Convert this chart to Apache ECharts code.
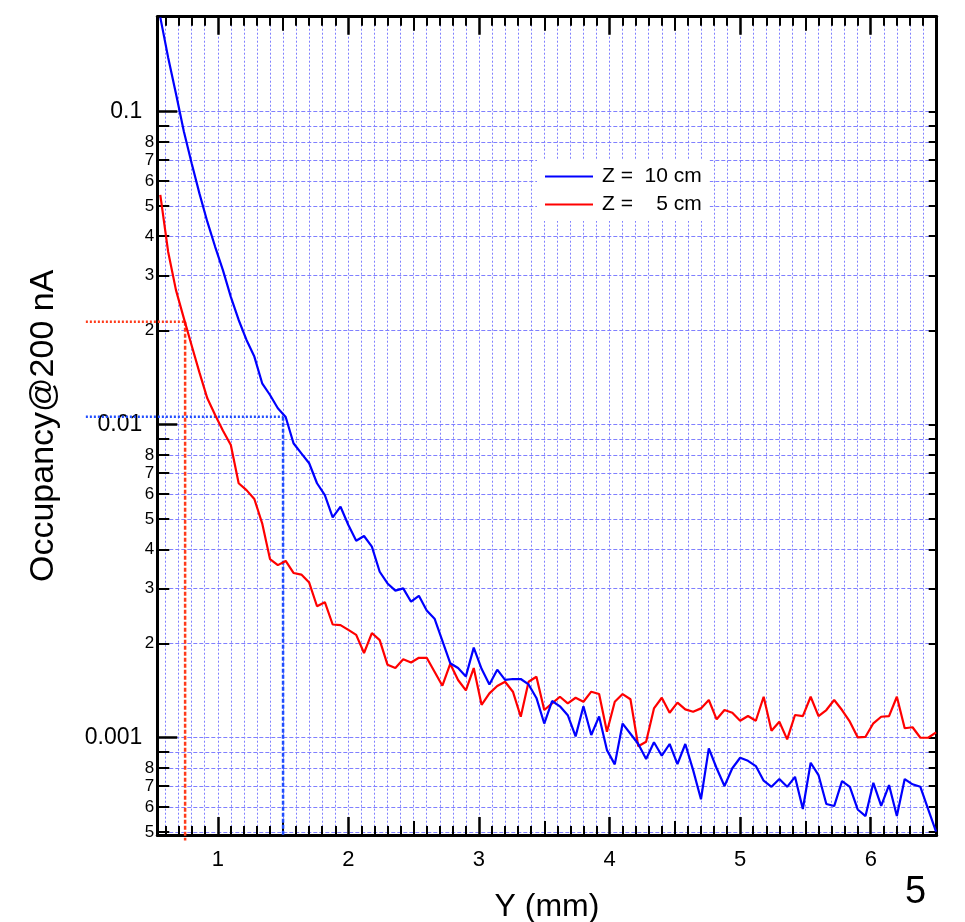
<!DOCTYPE html>
<html><head><meta charset="utf-8">
<script src="https://cdn.jsdelivr.net/npm/echarts@6/dist/echarts.min.js"></script>
<style>html,body{margin:0;padding:0;background:#fff}#c{width:965px;height:922px}</style>
</head><body><div id="c"></div>
<script>
// ---------- data ----------
const xValues = [0.56,0.62,0.68,0.74,0.80,0.86,0.92,0.98,1.04,1.10,1.16,1.22,1.28,1.34,1.40,1.46,1.52,1.58,1.64,1.70,
  1.76,1.82,1.88,1.94,2.00,2.06,2.12,2.18,2.24,2.30,2.36,2.42,2.48,2.54,2.60,2.66,2.72,2.78,2.84,2.90,
  2.96,3.02,3.08,3.14,3.20,3.26,3.32,3.38,3.44,3.50,3.56,3.62,3.68,3.74,3.80,3.86,3.92,3.98,4.04,4.10,
  4.16,4.22,4.28,4.34,4.40,4.46,4.52,4.58,4.64,4.70,4.76,4.82,4.88,4.94,5.00,5.06,5.12,5.18,5.24,5.30,
  5.36,5.42,5.48,5.54,5.60,5.66,5.72,5.78,5.84,5.90,5.96,6.02,6.08,6.14,6.20,6.26,6.32,6.38,6.44,6.50];

const blueZ10 = [0.2,0.149,0.114,0.0866,0.0684,0.0547,0.0445,0.0370,0.0311,0.0256,
  0.0216,0.01865,0.0165,0.01356,0.01244,0.01128,0.01058,0.00872,0.00810,0.00753,
  0.00650,0.00596,0.00506,0.00547,0.00478,0.00426,0.00441,0.00408,0.00339,0.00311,
  0.00295,0.00300,0.00272,0.00284,0.00255,0.00240,0.00204,0.00173,0.00167,0.00157,
  0.00194,0.00166,0.00148,0.00165,0.00153,0.00154,0.00154,0.00148,0.00134,0.00111,
  0.00131,0.00126,0.00118,0.00101,0.00126,0.00102,0.00117,0.000913,0.000822,0.00111,
  0.00103,0.000955,0.000855,0.000967,0.000876,0.000955,0.000824,0.000955,0.000788,0.000636,
  0.000925,0.000799,0.000701,0.000799,0.000863,0.000844,0.000812,0.000729,0.000697,0.000738,
  0.000697,0.000750,0.000592,0.000832,0.000760,0.000614,0.000605,0.000727,0.000697,0.000590,
  0.000562,0.000718,0.000606,0.000706,0.000562,0.000738,0.000710,0.000697,0.000590,0.000501];

const redZ5 = [0.0542,0.0357,0.0269,0.0219,0.0179,0.01466,0.01214,0.01074,0.00957,0.00861,
  0.00650,0.00618,0.00579,0.00484,0.00372,0.00356,0.00367,0.00336,0.00332,0.00313,
  0.00263,0.00271,0.00230,0.00229,0.00221,0.00213,0.001865,0.00216,0.00205,0.00171,
  0.00167,0.00178,0.00174,0.00180,0.00180,0.001625,0.001466,0.001723,0.001529,0.001417,
  0.00167,0.001274,0.001386,0.001463,0.00151,0.001403,0.001167,0.00151,0.001566,0.001226,
  0.001288,0.001352,0.001288,0.001342,0.001303,0.001403,0.001379,0.001045,0.001303,0.001379,
  0.001327,0.000939,0.000971,0.001241,0.001342,0.001202,0.001294,0.001232,0.001211,0.001241,
  0.00132,0.001145,0.001226,0.001202,0.001133,0.001173,0.001133,0.001352,0.001053,0.001125,
  0.000988,0.001182,0.001173,0.001352,0.001173,0.001226,0.00132,0.001226,0.001125,0.001003,
  0.001007,0.001112,0.001167,0.001173,0.001352,0.001072,0.00108,0.001,0.001,0.00104];

const seriesNames = ['Z =  10 cm', 'Z =    5 cm'];
const xTickLabels = [1, 2, 3, 4, 5, 6];
const xHalfTicks = [1.5, 2.5, 3.5, 4.5, 5.5, 6.5];
const yMajorTicks = [0.001, 0.01, 0.1];
const yMinorTicks = [0.0005,0.0006,0.0007,0.0008,0.0009,
  0.002,0.003,0.004,0.005,0.006,0.007,0.008,0.009,
  0.02,0.03,0.04,0.05,0.06,0.07,0.08,0.09];
const yMinorLabels = [0.0005,0.0006,0.0007,0.0008,
  0.002,0.003,0.004,0.005,0.006,0.007,0.008,
  0.02,0.03,0.04,0.05,0.06,0.07,0.08];
const refRed = { x: 0.75, y: 0.0213, yEnd: 0.00047 };
const refBlue = { x: 1.5, y: 0.0106, yEnd: 0.000487 };
const refStartX = -0.01;

// ---------- chart ----------
const XMIN = 0.537, XMAX = 6.505, YMIN = 0.000489, YMAX = 0.201;
const FONT = '"Liberation Sans", Arial, Helvetica, sans-serif';
const xTenths = [];
for (let k = 6; k <= 65; k++) { if (k % 10 !== 0) xTenths.push(+(k / 10).toFixed(1)); }
const yAll = yMajorTicks.concat(yMinorTicks);
const gridColor = '#8080ff';

function xAx(pos, ticks, len, opts) {
  return Object.assign({
    type: 'value', position: pos, min: XMIN, max: XMAX, gridIndex: 0,
    axisLine: { show: false, onZero: false },
    axisTick: { show: true, inside: true, length: len, customValues: ticks, lineStyle: { color: '#000', width: 2 } },
    axisLabel: { show: false },
    splitLine: { show: false }
  }, opts || {});
}
function yAx(pos, ticks, len, opts) {
  return Object.assign({
    type: 'log', logBase: 10, position: pos, min: YMIN, max: YMAX, gridIndex: 0,
    axisLine: { show: false, onZero: false },
    axisTick: { show: true, inside: true, length: len, customValues: ticks, lineStyle: { color: '#000', width: 2 } },
    axisLabel: { show: false },
    splitLine: { show: false }
  }, opts || {});
}

const chart = echarts.init(document.getElementById('c'), null, { renderer: 'canvas' });
const option = {
  animation: false,
  backgroundColor: '#fff',
  textStyle: { fontFamily: FONT },
  grid: { left: 157.3, right: 28.3, top: 16.7, bottom: 87, containLabel: false, outerBoundsMode: 'none' },
  legend: {
    data: seriesNames.map(n => ({ name: n, icon: 'rect' })),
    orient: 'vertical', left: 537, top: 160,
    padding: [6, 8, 6, 8], itemGap: 7, itemWidth: 48, itemHeight: 2,
    backgroundColor: '#fff',
    textStyle: { fontSize: 21, color: '#000', fontFamily: FONT, lineHeight: 19.5, padding: [0, 0, 0, 4] }
  },
  xAxis: [
    xAx('bottom', xTickLabels, 18, {
      axisLine: { show: true, onZero: false, lineStyle: { color: '#000', width: 3 } },
      axisTick: { show: true, inside: true, length: 18, customValues: xTickLabels, lineStyle: { color: '#000', width: 2.5 } },
      axisLabel: { show: true, customValues: xTickLabels, fontSize: 22, color: '#000', margin: 14, fontFamily: FONT },
      splitLine: { show: true, lineStyle: { color: gridColor, width: 1, type: [2, 2] } },
      name: 'Y (mm)', nameLocation: 'middle', nameGap: 56,
      nameTextStyle: { fontSize: 32, color: '#000', fontFamily: FONT }
    }),
    xAx('bottom', xHalfTicks, 14),
    xAx('bottom', xTenths, 9, { splitLine: { show: true, lineStyle: { color: gridColor, width: 1, type: [2, 2] } } }),
    xAx('top', xTickLabels, 18, {
      axisLine: { show: true, onZero: false, lineStyle: { color: '#000', width: 3 } },
      axisTick: { show: true, inside: true, length: 18, customValues: xTickLabels, lineStyle: { color: '#000', width: 2.5 } }
    }),
    xAx('top', xHalfTicks, 14),
    xAx('top', xTenths, 9)
  ],
  yAxis: [
    yAx('left', yMajorTicks, 20, {
      axisLine: { show: true, onZero: false, lineStyle: { color: '#000', width: 3 } },
      axisTick: { show: true, inside: true, length: 20, customValues: yMajorTicks, lineStyle: { color: '#000', width: 2.5 } },
      axisLabel: { show: true, customValues: yMajorTicks, fontSize: 23, color: '#000', margin: 15, fontFamily: FONT,
        formatter: v => String(+v.toPrecision(3)) },
      splitLine: { show: true, lineStyle: { color: gridColor, width: 1, type: [4, 2] } },
      name: 'Occupancy@200 nA', nameLocation: 'middle', nameGap: 97,
      nameTextStyle: { fontSize: 34, color: '#000', fontFamily: FONT }
    }),
    yAx('left', yMinorTicks, 12, {
      axisLabel: { show: true, customValues: yMinorLabels, fontSize: 17, color: '#000', margin: 3, fontFamily: FONT,
        formatter: v => { const e = Math.floor(Math.log10(v) + 1e-9); return String(Math.round(v / Math.pow(10, e))); } },
      splitLine: { show: true, lineStyle: { color: gridColor, width: 1, type: [4, 2] } }
    }),
    yAx('right', yAll, 8, {
      axisLine: { show: true, onZero: false, lineStyle: { color: '#000', width: 3 } }
    })
  ],
  series: [
    { type: 'line', name: seriesNames[1], symbol: 'none', z: 4,
      data: xValues.map((x, i) => [x, redZ5[i]]),
      lineStyle: { color: '#ff0000', width: 2.2 }, itemStyle: { color: '#ff0000' } },
    { type: 'line', name: seriesNames[0], symbol: 'none', z: 5,
      data: xValues.map((x, i) => [x, blueZ10[i]]),
      lineStyle: { color: '#0000ff', width: 2.2 }, itemStyle: { color: '#0000ff' } }
  ]
};
chart.setOption(option);

// reference lines (extend beyond the plot), positioned through the chart's own scales
const px = (x, y) => chart.convertToPixel({ xAxisIndex: 0, yAxisIndex: 0 }, [x, y]);
function refLines(ref, color) {
  const a = px(refStartX, ref.y), b = px(ref.x, ref.y), c = px(ref.x, ref.yEnd);
  return [
    { type: 'line', z: 3, silent: true, shape: { x1: a[0], y1: a[1], x2: b[0], y2: b[1] },
      style: { stroke: color, lineWidth: 2.5, lineDash: [2, 2] } },
    { type: 'line', z: 3, silent: true, shape: { x1: b[0], y1: b[1], x2: c[0], y2: c[1] },
      style: { stroke: color, lineWidth: 2.5, lineDash: [4, 2] } }
  ];
}
chart.setOption({
  graphic: [
    { type: 'text', left: 905, top: 874, style: { text: '5', fill: '#000', font: '38px ' + FONT } }
  ].concat(refLines(refRed, '#ff3b1a'), refLines(refBlue, '#1f4dff'))
});
</script></body></html>
